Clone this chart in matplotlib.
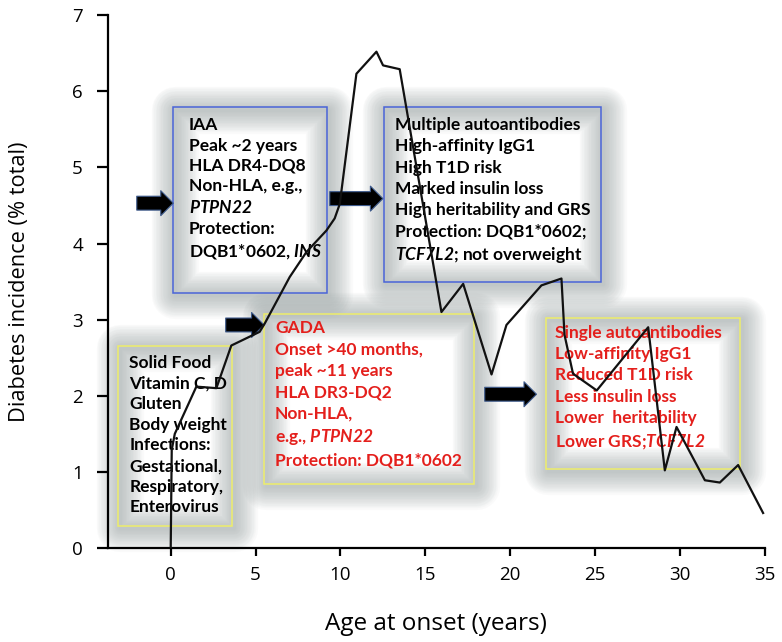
import matplotlib
matplotlib.use('Agg')
import matplotlib.pyplot as plt
from matplotlib.patches import Rectangle

# Kurvendaten
age = [0.0, 0.06, 0.24, 1.51, 2.69, 3.57, 5.24, 5.54, 7.01, 8.0, 9.17, 9.66, 9.96,
       10.94, 12.12, 12.51, 13.49, 15.95, 17.23, 18.9, 19.78, 21.84, 23.02, 23.2,
       23.7, 25.1, 28.13, 29.11, 29.8, 31.47, 32.35, 33.43, 34.9]
incidence = [0.0, 1.29, 1.5, 2.12, 2.10, 2.66, 2.84, 2.95, 3.56, 3.89, 4.17, 4.33, 4.52,
             6.23, 6.52, 6.34, 6.29, 3.10, 3.47, 2.28, 2.93, 3.45, 3.54, 2.8,
             2.29, 2.07, 2.90, 1.02, 1.59, 0.89, 0.86, 1.09, 0.46]

x_ticks = [0, 5, 10, 15, 20, 25, 30, 35]
y_ticks = [0, 1, 2, 3, 4, 5, 6, 7]

iaa_lines = ['IAA', 'Peak ~2 years', 'HLA DR4-DQ8', 'Non-HLA, e.g.,',
             r'$\mathit{PTPN22}$', 'Protection:', r'DQB1*0602, $\mathit{INS}$']
multi_lines = ['Multiple autoantibodies', 'High-affinity IgG1', 'High T1D risk',
               'Marked insulin loss', 'High heritability and GRS',
               'Protection: DQB1*0602;', r'$\mathit{TCF7L2}$; not overweight']
env_lines = ['Solid Food', 'Vitamin C, D', 'Gluten', 'Body weight', 'Infections:',
             'Gestational,', 'Respiratory,', 'Enterovirus']
gada_lines = ['GADA', 'Onset >40 months,', 'peak ~11 years', 'HLA DR3-DQ2',
              'Non-HLA,', r'e.g., $\mathit{PTPN22}$', 'Protection: DQB1*0602']
single_lines = ['Single autoantibodies', 'Low-affinity IgG1', 'Reduced T1D risk',
                'Less insulin loss', 'Lower  heritability', r'Lower GRS;$\mathit{TCF7L2}$']

plt.rcParams['mathtext.fontset'] = 'custom'
plt.rcParams['mathtext.rm'] = 'Lato:italic:bold'
plt.rcParams['mathtext.it'] = 'Lato:italic:bold'
plt.rcParams['mathtext.bf'] = 'Lato:italic:bold'

fig = plt.figure(figsize=(7.82, 6.42), dpi=100)
ax = fig.add_axes([0.138, 0.1464, 0.840, 0.830])

red = '#e41f1c'


def glow_box(x, y, w, h, edge):
    # weicher grauer Rahmen um die Box
    for lw in range(34, 1, -2):
        ax.add_patch(Rectangle((x + 0.12, y - 0.03), w, h, fill=False, ec='#96a0a0',
                               lw=lw, alpha=0.045, joinstyle='round', clip_on=False, zorder=1))
    ax.add_patch(Rectangle((x, y), w, h, fill=False, ec=edge, lw=1.1,
                           clip_on=False, zorder=2))


def box_text(x, y, lines, color, ls=1.40):
    ax.text(x, y, '\n'.join(lines), color=color, fontsize=12.5, fontfamily='Lato',
            fontweight='bold', va='top', ha='left', linespacing=ls, zorder=3)


glow_box(0.12, 3.35, 9.07, 2.44, '#4a64d8')
glow_box(12.55, 3.50, 12.79, 2.29, '#4a64d8')
glow_box(-3.12, 0.29, 6.71, 2.37, '#eded6a')
glow_box(5.48, 0.84, 12.38, 2.24, '#eded6a')
glow_box(22.10, 1.04, 11.43, 1.98, '#eded6a')

box_text(1.05, 5.66, iaa_lines, 'black', 1.34)
box_text(13.2, 5.66, multi_lines, 'black')
box_text(-2.45, 2.54, env_lines, 'black', 1.36)
box_text(6.15, 2.99, gada_lines, red)
box_text(22.65, 2.93, single_lines, red)

# Pfeile
arrows = [(-2.0, 0.15, 4.53), (9.37, 12.5, 4.59), (3.24, 5.5, 2.93), (18.5, 21.55, 2.02)]
for x0, x1, yy in arrows:
    ax.annotate('', xy=(x1, yy), xytext=(x0, yy), zorder=4,
                arrowprops=dict(arrowstyle='simple,head_length=0.9,head_width=1.8,tail_width=1.0',
                                mutation_scale=10, fc='black', ec='#3d5a8c', lw=0.8,
                                shrinkA=0, shrinkB=0))

ax.plot(age, incidence, color='#111111', lw=1.6, zorder=5)

ax.set_xlim(-3.7, 35)
ax.set_ylim(0, 7)
ax.set_xticks(x_ticks)
ax.set_yticks(y_ticks)
ax.spines['top'].set_visible(False)
ax.spines['right'].set_visible(False)
ax.spines['left'].set_linewidth(1.6)
ax.spines['bottom'].set_linewidth(1.6)
ax.tick_params(axis='x', length=6, width=1.6, pad=7, labelsize=13.5)
ax.tick_params(axis='y', length=8, width=1.6, pad=10, labelsize=13.5)
for lab in ax.get_xticklabels() + ax.get_yticklabels():
    lab.set_fontfamily('Open Sans')

ax.set_xlabel('Age at onset (years)', fontsize=17.5, fontfamily='Open Sans', labelpad=20)
ax.set_ylabel('Diabetes incidence (% total)', fontsize=15.7, fontfamily='Open Sans', labelpad=30)

plt.savefig('out.png', dpi=100)
